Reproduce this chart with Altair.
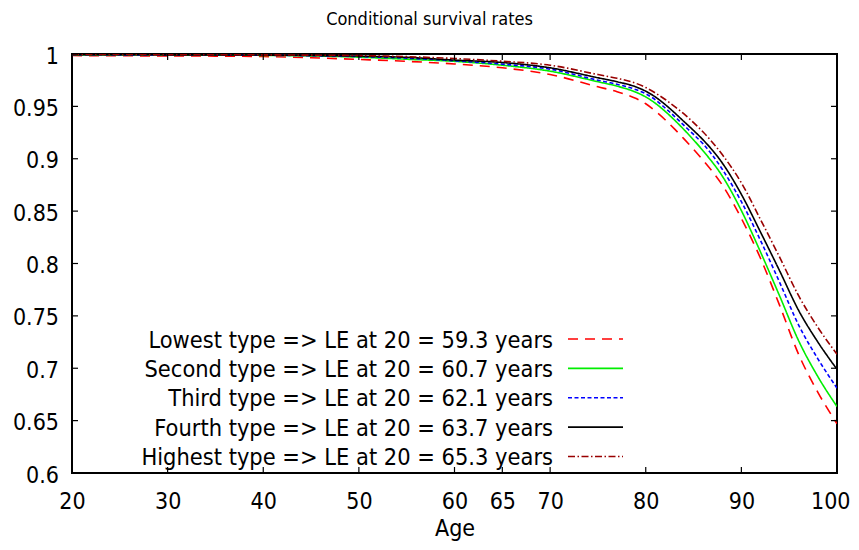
import altair as alt
import pandas as pd

FONT = "DejaVu Sans Condensed, DejaVu Sans, sans-serif"

ages = [20, 25, 30, 35, 40, 45, 50, 55, 60, 65, 70, 75, 77, 79, 80, 81, 82, 83, 84, 85, 86, 88, 90,
        92, 94, 96, 98, 100]
lowest = [0.9985, 0.9983, 0.9982, 0.9980, 0.9976, 0.9964, 0.9948, 0.9930, 0.9905, 0.9868, 0.9804, 0.9687,
          0.9640, 0.9575, 0.9525, 0.9455, 0.9375, 0.9285, 0.9190, 0.9090, 0.8985, 0.8750, 0.8430,
          0.8050, 0.7600, 0.7130, 0.6770, 0.6470]
second = [0.9992, 0.9991, 0.9990, 0.9989, 0.9987, 0.9982, 0.9970, 0.9950, 0.9930, 0.9893, 0.9836, 0.9735,
          0.9693, 0.9634, 0.9590, 0.9530, 0.9455, 0.9370, 0.9278, 0.9180, 0.9075, 0.8835, 0.8505,
          0.8110, 0.7690, 0.7260, 0.6920, 0.6634]
third = [0.9993, 0.9992, 0.9991, 0.9990, 0.9988, 0.9984, 0.9975, 0.9960, 0.9935, 0.9903, 0.9855, 0.9750,
         0.9711, 0.9659, 0.9620, 0.9563, 0.9487, 0.9405, 0.9318, 0.9232, 0.9142, 0.8900, 0.8590,
         0.8220, 0.7820, 0.7410, 0.7090, 0.6810]
fourth = [0.9993, 0.9993, 0.9992, 0.9991, 0.9990, 0.9986, 0.9980, 0.9968, 0.9942, 0.9919, 0.9868, 0.9773,
          0.9735, 0.9685, 0.9645, 0.9590, 0.9520, 0.9440, 0.9355, 0.9270, 0.9180, 0.8960, 0.8660,
          0.8300, 0.7930, 0.7550, 0.7250, 0.6990]
highest = [0.9995, 0.9995, 0.9994, 0.9993, 0.9992, 0.9989, 0.9985, 0.9975, 0.9957, 0.9931, 0.9893, 0.9804,
           0.9768, 0.9719, 0.9680, 0.9628, 0.9568, 0.9500, 0.9428, 0.9345, 0.9255, 0.9040, 0.8770,
           0.8420, 0.8060, 0.7690, 0.7390, 0.7133]

series_names = [
    "Lowest type => LE at 20 = 59.3 years",
    "Second type => LE at 20 = 60.7 years",
    "Third type => LE at 20 = 62.1 years",
    "Fourth type => LE at 20 = 63.7 years",
    "Highest type => LE at 20 = 65.3 years",
]
series_values = [lowest, second, third, fourth, highest]
colors = ["#ff0000", "#00ee00", "#0000ff", "#000000", "#990000"]
dashes = [[10, 7], [1, 0], [4, 2.5], [1, 0], [7, 2.5, 1.5, 2.5]]

x_ticks = [20, 30, 40, 50, 60, 65, 70, 80, 90, 100]
y_ticks = [0.6, 0.65, 0.7, 0.75, 0.8, 0.85, 0.9, 0.95, 1.0]

rows = []
for k, (name, vals) in enumerate(zip(series_names, series_values)):
    for a, v in zip(ages, vals):
        rows.append({"age": a, "value": v, "series": name, "k": k})
df = pd.DataFrame(rows)

W, H = 765, 419

x_scale = alt.Scale(domain=[20, 100], nice=False, zero=False)
y_scale = alt.Scale(domain=[0.6, 1.0], nice=False, zero=False)
color = alt.Color("series:N", scale=alt.Scale(domain=series_names, range=colors), legend=None)
dash = alt.StrokeDash("series:N", scale=alt.Scale(domain=series_names, range=dashes), legend=None)

lines = alt.Chart(df).mark_line(strokeWidth=1.6, interpolate="monotone", clip=True).encode(
    x=alt.X("age:Q", scale=x_scale,
            axis=alt.Axis(values=x_ticks, title="Age", labelPadding=17, titlePadding=4,
                          labelFlush=False, labelOverlap=False,
                          labelAlign=alt.ExprRef(expr="datum.value == 100 ? 'right' : 'center'"),
                          labelOffset=alt.ExprRef(expr="datum.value == 100 ? 13 : 0"))),
    y=alt.Y("value:Q", scale=y_scale,
            axis=alt.Axis(values=y_ticks, format=".2~f", title=None, labelPadding=13.5,
                          labelOffset=2, labelOverlap=False)),
    color=color,
    strokeDash=dash,
    order="age:Q",
)

xt_df = pd.DataFrame({"t": x_ticks})
yt_df = pd.DataFrame({"t": y_ticks})
tick_style = dict(color="black", strokeWidth=1.2)
x_bot = alt.Chart(xt_df).mark_rule(**tick_style).encode(
    x=alt.X("t:Q", scale=x_scale), y=alt.value(H), y2=alt.value(H - 6))
x_top = alt.Chart(xt_df).mark_rule(**tick_style).encode(
    x=alt.X("t:Q", scale=x_scale), y=alt.value(0), y2=alt.value(6))
y_left = alt.Chart(yt_df).mark_rule(**tick_style).encode(
    y=alt.Y("t:Q", scale=y_scale, axis=None), x=alt.value(0), x2=alt.value(6))
y_right = alt.Chart(yt_df).mark_rule(**tick_style).encode(
    y=alt.Y("t:Q", scale=y_scale, axis=None), x=alt.value(W), x2=alt.value(W - 6))

leg_df = pd.DataFrame({"series": series_names, "row": list(range(len(series_names)))})
leg_y = alt.Y("row:Q", scale=alt.Scale(domain=[0, 4], range=[285, 402.5], nice=False, zero=False), axis=None)
leg_text = alt.Chart(leg_df).mark_text(align="right", baseline="middle", fontSize=23.4, font=FONT,
                                       color="black", dy=1.5).encode(
    x=alt.value(481), y=leg_y, text="series:N")
leg_line = alt.Chart(leg_df).mark_rule(strokeWidth=1.6).encode(
    x=alt.value(496), x2=alt.value(551), y=leg_y, color=color, strokeDash=dash)

chart = alt.layer(lines, x_bot, x_top, y_left, y_right, leg_line, leg_text).resolve_scale(
    y="independent"
).properties(
    width=W,
    height=H,
    autosize=alt.AutoSizeParams(type="none"),
    padding={"left": 64, "top": 46, "right": 14, "bottom": 68},
    title=alt.TitleParams("Conditional survival rates", fontSize=18, font=FONT, fontWeight="normal",
                          color="black", anchor="middle", frame="group", dx=-25, offset=16),
).configure_view(
    stroke="black", strokeWidth=2
).configure_axis(
    labelFont=FONT, titleFont=FONT, labelColor="black", titleColor="black",
    labelFontSize=23, titleFontSize=23, titleFontWeight="normal",
    grid=False, domain=False, ticks=False, tickSize=0,
)

chart.save("out.html", embed_options={"renderer": "svg", "actions": False})
